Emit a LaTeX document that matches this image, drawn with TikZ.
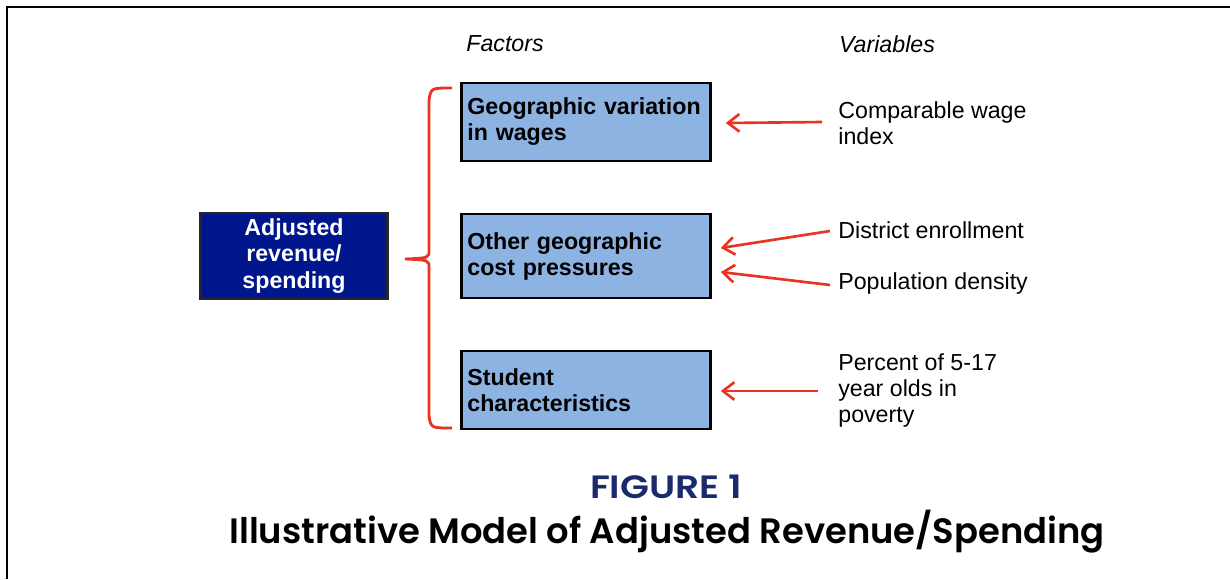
\documentclass[tikz,border=0pt]{standalone}
\usepackage{graphicx}
\usepackage{fontspec}
\setmainfont{Liberation Sans}
\newfontfamily\titlefont{Poppins}[BoldFont={Poppins SemiBold}]
\usetikzlibrary{arrows.meta}

\definecolor{boxblue}{RGB}{141,179,226}
\definecolor{darkbox}{RGB}{0,22,140}
\definecolor{linkred}{RGB}{232,52,32}
\definecolor{titlenavy}{RGB}{27,42,107}

\begin{document}
\begin{tikzpicture}[x=0.02cm, y=-0.02cm,
    every node/.style={font=\fontsize{13.2}{14.8}\selectfont},
    factorbox/.style={draw=black, line width=1.4pt, fill=boxblue, font=\fontsize{13.2}{14.8}\selectfont\bfseries, text width=135pt, align=left, inner xsep=3.4pt, minimum height=44.4pt},
    mainbox/.style={draw=black!85, line width=1.4pt, fill=darkbox, text=white, font=\fontsize{13.2}{15}\selectfont\bfseries, text width=100pt, align=center, minimum height=47.8pt},
    varlabel/.style={anchor=west, inner sep=0pt, align=left},
    headlabel/.style={font=\fontsize{13.2}{14.8}\selectfont\itshape},
    varrow/.style={linkred, line width=1.5pt, -{Straight Barb[length=6.5pt,width=10pt]}},
    brace/.style={linkred, line width=1.6pt}]
    \useasboundingbox (0,0) rectangle (1230,579);
    \draw[line width=1pt] (7,579) -- (7,7) -- (1230,7);

    \node[headlabel] (factors) at (505,44) {Factors};
    \node[headlabel] (variables) at (887,44) {Variables};

    \node[mainbox] (adjusted) at (294,256) {Adjusted\\revenue/\\spending};

    \node[factorbox] (wages) at (586,122) {Geographic variation\\in wages};
    \node[factorbox, minimum height=47.8pt] (cost) at (586,256) {Other geographic\\cost pressures};
    \node[factorbox] (student) at (586,390) {Student\\characteristics};

    \draw[brace] (452,88) .. controls (431,88) .. (429,100) -- (429,250)
        .. controls (429,258) .. (405,259) .. controls (429,260) .. (429,268)
        -- (429,416) .. controls (431,428) .. (452,428);

    \node[varlabel] (wage) at (838,123) {Comparable wage\\index};
    \node[varlabel] (enroll) at (838,230) {District enrollment};
    \node[varlabel] (density) at (838,283) {Population density};
    \node[varlabel] (poverty) at (838,391) {Percent of 5-17\\year olds in\\poverty};

    \draw[varrow] ([shift={(-16,-1)}]wage.west) -- ([shift={(14,1)}]wages.east);
    \draw[varrow] ([shift={(-8,1)}]enroll.west) -- ([shift={(9,-8)}]cost.east);
    \draw[varrow] ([shift={(-8,2)}]density.west) -- ([shift={(9,16)}]cost.east);
    \draw[varrow] ([shift={(-20,0)}]poverty.west) -- ([shift={(9,1)}]student.east);

    \node[titlenavy, anchor=base] (fignum) at (666,498) {\resizebox{86.5pt}{13.4pt}{\titlefont\bfseries FIGURE 1}};
    \node[anchor=base] (title) at (667,543) {\resizebox{498pt}{19pt}{\titlefont\bfseries Illustrative Model of Adjusted Revenue/Spending}};
  \end{tikzpicture}
\end{document}
